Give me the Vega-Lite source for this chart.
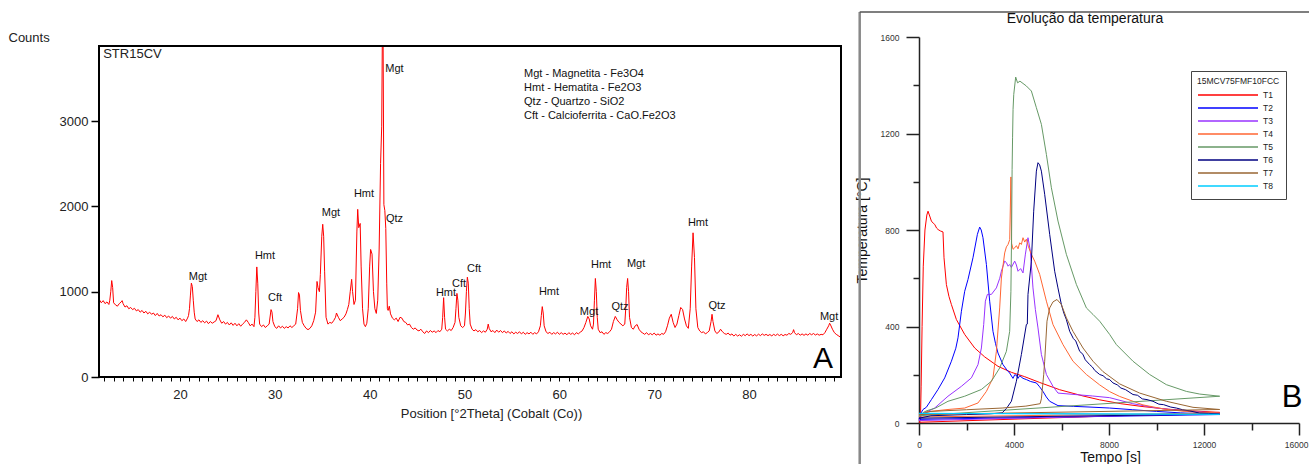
{
"$schema": "https://vega.github.io/schema/vega-lite/v6.json",
"background": "white",
"padding": {"left": 8, "top": 10, "right": 0, "bottom": 0},
"bounds": "flush",
"spacing": 78,
"config": {
 "view": {"stroke": null},
 "font": "Liberation Sans",
 "axis": {"grid": false, "labelFont": "Liberation Sans", "titleFont": "Liberation Sans", "titleFontWeight": "normal", "labelFlush": false, "labelOverlap": false, "labelBound": false},
 "text": {"font": "Liberation Sans"},
 "legend": {"labelFont": "Liberation Sans", "titleFont": "Liberation Sans"},
 "title": {"font": "Liberation Sans"}
},
"datasets": {
 "one": [{"k": 1}],
 "xrd": [
{"t":11.5,"c":905},{"t":11.7,"c":870},{"t":11.9,"c":895},{"t":12.1,"c":860},{"t":12.3,"c":880},{"t":12.5,"c":850},{"t":12.6,"c":900},{"t":12.7,"c":1000},{"t":12.8,"c":1130},{"t":12.9,"c":1050},{"t":13.0,"c":870},{"t":13.2,"c":845},{"t":13.4,"c":830},{"t":13.6,"c":860},{"t":13.8,"c":880},{"t":13.9,"c":895},{"t":14.0,"c":860},{"t":14.2,"c":820},{"t":14.4,"c":835},{"t":14.6,"c":800},{"t":14.8,"c":815},{"t":15.0,"c":790},{"t":15.2,"c":805},{"t":15.4,"c":775},{"t":15.6,"c":790},{"t":15.8,"c":760},{"t":16.0,"c":780},{"t":16.2,"c":750},{"t":16.4,"c":770},{"t":16.6,"c":740},{"t":16.8,"c":760},{"t":17.0,"c":735},{"t":17.2,"c":750},{"t":17.4,"c":720},{"t":17.6,"c":745},{"t":17.8,"c":715},{"t":18.0,"c":730},{"t":18.2,"c":705},{"t":18.4,"c":725},{"t":18.6,"c":695},{"t":18.8,"c":715},{"t":19.0,"c":690},{"t":19.2,"c":710},{"t":19.4,"c":680},{"t":19.6,"c":700},{"t":19.8,"c":670},{"t":20.0,"c":690},{"t":20.2,"c":660},{"t":20.4,"c":680},{"t":20.6,"c":650},{"t":20.8,"c":690},{"t":20.9,"c":720},{"t":21.0,"c":800},{"t":21.1,"c":960},{"t":21.2,"c":1100},{"t":21.3,"c":1060},{"t":21.4,"c":900},{"t":21.5,"c":760},{"t":21.6,"c":680},{"t":21.8,"c":650},{"t":22.0,"c":670},{"t":22.2,"c":640},{"t":22.4,"c":660},{"t":22.6,"c":635},{"t":22.8,"c":655},{"t":23.0,"c":625},{"t":23.2,"c":650},{"t":23.4,"c":630},{"t":23.6,"c":645},{"t":23.8,"c":660},{"t":24.0,"c":730},{"t":24.2,"c":670},{"t":24.4,"c":630},{"t":24.6,"c":650},{"t":24.8,"c":620},{"t":25.0,"c":640},{"t":25.2,"c":610},{"t":25.4,"c":635},{"t":25.6,"c":605},{"t":25.8,"c":630},{"t":26.0,"c":600},{"t":26.2,"c":625},{"t":26.4,"c":595},{"t":26.6,"c":620},{"t":26.8,"c":640},{"t":27.0,"c":670},{"t":27.2,"c":640},{"t":27.4,"c":600},{"t":27.6,"c":620},{"t":27.8,"c":590},{"t":27.9,"c":700},{"t":28.0,"c":1000},{"t":28.1,"c":1290},{"t":28.2,"c":1100},{"t":28.3,"c":750},{"t":28.4,"c":620},{"t":28.6,"c":590},{"t":28.8,"c":610},{"t":29.0,"c":580},{"t":29.2,"c":600},{"t":29.4,"c":620},{"t":29.6,"c":790},{"t":29.7,"c":760},{"t":29.8,"c":650},{"t":30.0,"c":590},{"t":30.2,"c":570},{"t":30.4,"c":600},{"t":30.6,"c":575},{"t":30.8,"c":595},{"t":31.0,"c":570},{"t":31.2,"c":590},{"t":31.4,"c":575},{"t":31.6,"c":600},{"t":31.8,"c":580},{"t":32.0,"c":600},{"t":32.2,"c":620},{"t":32.4,"c":800},{"t":32.5,"c":990},{"t":32.6,"c":960},{"t":32.7,"c":780},{"t":32.9,"c":640},{"t":33.1,"c":600},{"t":33.3,"c":570},{"t":33.5,"c":555},{"t":33.7,"c":570},{"t":33.9,"c":600},{"t":34.1,"c":660},{"t":34.3,"c":760},{"t":34.45,"c":1120},{"t":34.55,"c":1050},{"t":34.7,"c":1000},{"t":34.8,"c":1200},{"t":34.95,"c":1650},{"t":35.05,"c":1790},{"t":35.15,"c":1650},{"t":35.25,"c":1240},{"t":35.4,"c":700},{"t":35.6,"c":620},{"t":35.8,"c":640},{"t":36.0,"c":630},{"t":36.2,"c":660},{"t":36.4,"c":700},{"t":36.5,"c":750},{"t":36.7,"c":700},{"t":36.9,"c":660},{"t":37.1,"c":680},{"t":37.3,"c":700},{"t":37.5,"c":740},{"t":37.65,"c":790},{"t":37.8,"c":850},{"t":37.95,"c":1000},{"t":38.1,"c":1145},{"t":38.2,"c":1000},{"t":38.35,"c":850},{"t":38.5,"c":900},{"t":38.65,"c":1700},{"t":38.74,"c":1965},{"t":38.85,"c":1750},{"t":39.0,"c":1800},{"t":39.1,"c":1300},{"t":39.25,"c":800},{"t":39.4,"c":620},{"t":39.55,"c":590},{"t":39.7,"c":630},{"t":39.85,"c":800},{"t":40.0,"c":1300},{"t":40.1,"c":1495},{"t":40.25,"c":1440},{"t":40.4,"c":1000},{"t":40.55,"c":800},{"t":40.7,"c":745},{"t":40.85,"c":900},{"t":41.0,"c":1500},{"t":41.15,"c":2500},{"t":41.27,"c":2940},{"t":41.33,"c":3880},{"t":41.42,"c":3880},{"t":41.5,"c":2020},{"t":41.6,"c":1950},{"t":41.7,"c":1740},{"t":41.8,"c":1100},{"t":41.87,"c":800},{"t":41.95,"c":780},{"t":42.07,"c":830},{"t":42.2,"c":740},{"t":42.4,"c":690},{"t":42.6,"c":670},{"t":42.8,"c":690},{"t":43.0,"c":650},{"t":43.2,"c":700},{"t":43.4,"c":690},{"t":43.6,"c":650},{"t":43.8,"c":640},{"t":44.0,"c":610},{"t":44.2,"c":620},{"t":44.4,"c":580},{"t":44.6,"c":560},{"t":44.8,"c":575},{"t":45.0,"c":550},{"t":45.2,"c":540},{"t":45.4,"c":560},{"t":45.6,"c":530},{"t":45.8,"c":510},{"t":46.0,"c":540},{"t":46.2,"c":520},{"t":46.4,"c":545},{"t":46.6,"c":525},{"t":46.8,"c":540},{"t":47.0,"c":520},{"t":47.2,"c":545},{"t":47.4,"c":530},{"t":47.6,"c":560},{"t":47.7,"c":700},{"t":47.8,"c":930},{"t":47.9,"c":700},{"t":48.0,"c":560},{"t":48.2,"c":540},{"t":48.4,"c":560},{"t":48.6,"c":545},{"t":48.8,"c":580},{"t":49.0,"c":640},{"t":49.1,"c":800},{"t":49.2,"c":980},{"t":49.3,"c":900},{"t":49.4,"c":700},{"t":49.6,"c":600},{"t":49.8,"c":580},{"t":50.0,"c":600},{"t":50.1,"c":750},{"t":50.2,"c":1000},{"t":50.3,"c":1170},{"t":50.4,"c":1100},{"t":50.5,"c":800},{"t":50.6,"c":620},{"t":50.8,"c":560},{"t":51.0,"c":540},{"t":51.2,"c":555},{"t":51.4,"c":530},{"t":51.6,"c":545},{"t":51.8,"c":520},{"t":52.0,"c":540},{"t":52.2,"c":525},{"t":52.4,"c":560},{"t":52.5,"c":620},{"t":52.6,"c":570},{"t":52.8,"c":530},{"t":53.0,"c":545},{"t":53.2,"c":520},{"t":53.4,"c":550},{"t":53.6,"c":525},{"t":53.8,"c":545},{"t":54.0,"c":520},{"t":54.2,"c":540},{"t":54.4,"c":515},{"t":54.6,"c":535},{"t":54.8,"c":510},{"t":55.0,"c":530},{"t":55.2,"c":505},{"t":55.4,"c":525},{"t":55.6,"c":510},{"t":55.8,"c":530},{"t":56.0,"c":505},{"t":56.2,"c":525},{"t":56.4,"c":500},{"t":56.6,"c":520},{"t":56.8,"c":505},{"t":57.0,"c":525},{"t":57.2,"c":500},{"t":57.4,"c":520},{"t":57.6,"c":505},{"t":57.8,"c":530},{"t":58.0,"c":600},{"t":58.1,"c":720},{"t":58.2,"c":825},{"t":58.3,"c":750},{"t":58.4,"c":600},{"t":58.6,"c":530},{"t":58.8,"c":510},{"t":59.0,"c":525},{"t":59.2,"c":500},{"t":59.4,"c":520},{"t":59.6,"c":505},{"t":59.8,"c":525},{"t":60.0,"c":500},{"t":60.2,"c":520},{"t":60.4,"c":500},{"t":60.6,"c":515},{"t":60.8,"c":495},{"t":61.0,"c":520},{"t":61.2,"c":500},{"t":61.4,"c":515},{"t":61.6,"c":495},{"t":61.8,"c":520},{"t":62.0,"c":505},{"t":62.2,"c":525},{"t":62.4,"c":540},{"t":62.6,"c":580},{"t":62.8,"c":640},{"t":63.0,"c":710},{"t":63.15,"c":680},{"t":63.3,"c":600},{"t":63.5,"c":560},{"t":63.6,"c":620},{"t":63.7,"c":900},{"t":63.8,"c":1155},{"t":63.9,"c":1000},{"t":64.0,"c":700},{"t":64.1,"c":560},{"t":64.3,"c":520},{"t":64.5,"c":530},{"t":64.7,"c":500},{"t":64.9,"c":520},{"t":65.1,"c":510},{"t":65.3,"c":530},{"t":65.5,"c":560},{"t":65.7,"c":650},{"t":65.9,"c":710},{"t":66.1,"c":670},{"t":66.3,"c":640},{"t":66.5,"c":620},{"t":66.7,"c":600},{"t":66.9,"c":620},{"t":67.0,"c":800},{"t":67.1,"c":1050},{"t":67.2,"c":1155},{"t":67.3,"c":1000},{"t":67.4,"c":700},{"t":67.6,"c":580},{"t":67.8,"c":560},{"t":68.0,"c":600},{"t":68.2,"c":615},{"t":68.4,"c":560},{"t":68.6,"c":530},{"t":68.8,"c":515},{"t":69.0,"c":500},{"t":69.2,"c":520},{"t":69.4,"c":495},{"t":69.6,"c":510},{"t":69.8,"c":495},{"t":70.0,"c":515},{"t":70.2,"c":490},{"t":70.4,"c":505},{"t":70.6,"c":490},{"t":70.8,"c":510},{"t":71.0,"c":500},{"t":71.2,"c":530},{"t":71.4,"c":600},{"t":71.6,"c":690},{"t":71.8,"c":735},{"t":72.0,"c":640},{"t":72.2,"c":580},{"t":72.4,"c":620},{"t":72.6,"c":720},{"t":72.8,"c":815},{"t":73.0,"c":790},{"t":73.2,"c":680},{"t":73.4,"c":600},{"t":73.6,"c":570},{"t":73.8,"c":800},{"t":73.95,"c":1300},{"t":74.1,"c":1690},{"t":74.25,"c":1400},{"t":74.4,"c":800},{"t":74.6,"c":580},{"t":74.8,"c":540},{"t":75.0,"c":520},{"t":75.2,"c":530},{"t":75.4,"c":505},{"t":75.6,"c":520},{"t":75.8,"c":540},{"t":76.0,"c":650},{"t":76.1,"c":735},{"t":76.2,"c":650},{"t":76.4,"c":540},{"t":76.6,"c":510},{"t":76.8,"c":525},{"t":77.0,"c":560},{"t":77.2,"c":530},{"t":77.4,"c":510},{"t":77.6,"c":500},{"t":77.8,"c":515},{"t":78.0,"c":490},{"t":78.2,"c":505},{"t":78.4,"c":480},{"t":78.6,"c":500},{"t":78.8,"c":480},{"t":79.0,"c":495},{"t":79.2,"c":478},{"t":79.4,"c":500},{"t":79.6,"c":485},{"t":79.8,"c":505},{"t":80.0,"c":485},{"t":80.2,"c":500},{"t":80.4,"c":480},{"t":80.6,"c":498},{"t":80.8,"c":482},{"t":81.0,"c":502},{"t":81.2,"c":485},{"t":81.4,"c":505},{"t":81.6,"c":488},{"t":81.8,"c":500},{"t":82.0,"c":485},{"t":82.2,"c":498},{"t":82.4,"c":482},{"t":82.6,"c":500},{"t":82.8,"c":486},{"t":83.0,"c":503},{"t":83.2,"c":485},{"t":83.4,"c":500},{"t":83.6,"c":483},{"t":83.8,"c":498},{"t":84.0,"c":490},{"t":84.2,"c":510},{"t":84.4,"c":500},{"t":84.6,"c":520},{"t":84.7,"c":555},{"t":84.8,"c":520},{"t":85.0,"c":495},{"t":85.2,"c":510},{"t":85.4,"c":490},{"t":85.6,"c":505},{"t":85.8,"c":488},{"t":86.0,"c":505},{"t":86.2,"c":490},{"t":86.4,"c":510},{"t":86.6,"c":495},{"t":86.8,"c":510},{"t":87.0,"c":492},{"t":87.2,"c":505},{"t":87.4,"c":490},{"t":87.6,"c":500},{"t":87.8,"c":495},{"t":88.0,"c":520},{"t":88.2,"c":560},{"t":88.4,"c":600},{"t":88.5,"c":630},{"t":88.6,"c":610},{"t":88.8,"c":560},{"t":89.0,"c":520},{"t":89.2,"c":500},{"t":89.4,"c":485},{"t":89.6,"c":470},{"t":89.7,"c":475}
 ],
 "peaks": [
{"tt":21.9,"cnt":1170,"lab":"Mgt"},{"tt":28.96,"cnt":1420,"lab":"Hmt"},{"tt":30.02,"cnt":925,"lab":"Cft"},{"tt":35.92,"cnt":1922,"lab":"Mgt"},{"tt":39.4,"cnt":2145,"lab":"Hmt"},{"tt":42.62,"cnt":3610,"lab":"Mgt"},{"tt":42.62,"cnt":1852,"lab":"Qtz"},{"tt":48.05,"cnt":985,"lab":"Hmt"},{"tt":49.42,"cnt":1090,"lab":"Cft"},{"tt":51.0,"cnt":1265,"lab":"Cft"},{"tt":58.91,"cnt":995,"lab":"Hmt"},{"tt":63.13,"cnt":760,"lab":"Mgt"},{"tt":64.4,"cnt":1310,"lab":"Hmt"},{"tt":66.4,"cnt":820,"lab":"Qtz"},{"tt":68.09,"cnt":1325,"lab":"Mgt"},{"tt":74.62,"cnt":1805,"lab":"Hmt"},{"tt":76.63,"cnt":830,"lab":"Qtz"},{"tt":88.44,"cnt":705,"lab":"Mgt"}
 ],
 "temps": [
{"s":"T1","n":0,"t":0,"v":3},{"s":"T1","n":1,"t":60,"v":10},{"s":"T1","n":2,"t":90,"v":150},{"s":"T1","n":3,"t":130,"v":400},{"s":"T1","n":4,"t":180,"v":650},{"s":"T1","n":5,"t":250,"v":800},{"s":"T1","n":6,"t":330,"v":862},{"s":"T1","n":7,"t":380,"v":878},{"s":"T1","n":8,"t":450,"v":858},{"s":"T1","n":9,"t":522,"v":837},{"s":"T1","n":10,"t":600,"v":828},{"s":"T1","n":11,"t":663,"v":823},{"s":"T1","n":12,"t":740,"v":808},{"s":"T1","n":13,"t":803,"v":802},{"s":"T1","n":14,"t":900,"v":796},{"s":"T1","n":15,"t":1010,"v":792},{"s":"T1","n":16,"t":1053,"v":685},{"s":"T1","n":17,"t":1153,"v":574},{"s":"T1","n":18,"t":1260,"v":525},{"s":"T1","n":19,"t":1364,"v":491},{"s":"T1","n":20,"t":1574,"v":429},{"s":"T1","n":21,"t":1924,"v":367},{"s":"T1","n":22,"t":2345,"v":311},{"s":"T1","n":23,"t":2766,"v":274},{"s":"T1","n":24,"t":3326,"v":235},{"s":"T1","n":25,"t":3890,"v":210},{"s":"T1","n":26,"t":4450,"v":192},{"s":"T1","n":27,"t":5081,"v":168},{"s":"T1","n":28,"t":5923,"v":138},{"s":"T1","n":29,"t":6905,"v":112},{"s":"T1","n":30,"t":7607,"v":96},{"s":"T1","n":31,"t":8500,"v":80},{"s":"T1","n":32,"t":9431,"v":68},{"s":"T1","n":33,"t":10500,"v":57},{"s":"T1","n":34,"t":11500,"v":50},{"s":"T1","n":35,"t":12660,"v":44},{"s":"T1","n":36,"t":0,"v":3},
{"s":"T2","n":0,"t":0,"v":15},{"s":"T2","n":1,"t":80,"v":40},{"s":"T2","n":2,"t":168,"v":56},{"s":"T2","n":3,"t":308,"v":65},{"s":"T2","n":4,"t":522,"v":97},{"s":"T2","n":5,"t":800,"v":139},{"s":"T2","n":6,"t":1082,"v":187},{"s":"T2","n":7,"t":1364,"v":256},{"s":"T2","n":8,"t":1550,"v":310},{"s":"T2","n":9,"t":1642,"v":353},{"s":"T2","n":10,"t":1785,"v":463},{"s":"T2","n":11,"t":1924,"v":546},{"s":"T2","n":12,"t":2063,"v":595},{"s":"T2","n":13,"t":2273,"v":685},{"s":"T2","n":14,"t":2459,"v":782},{"s":"T2","n":15,"t":2555,"v":812},{"s":"T2","n":16,"t":2620,"v":800},{"s":"T2","n":17,"t":2694,"v":768},{"s":"T2","n":18,"t":2838,"v":657},{"s":"T2","n":19,"t":2976,"v":505},{"s":"T2","n":20,"t":3115,"v":380},{"s":"T2","n":21,"t":3220,"v":330},{"s":"T2","n":22,"t":3326,"v":290},{"s":"T2","n":23,"t":3536,"v":242},{"s":"T2","n":24,"t":3700,"v":220},{"s":"T2","n":25,"t":3818,"v":207},{"s":"T2","n":26,"t":3957,"v":185},{"s":"T2","n":27,"t":4030,"v":200},{"s":"T2","n":28,"t":4100,"v":198},{"s":"T2","n":29,"t":4170,"v":185},{"s":"T2","n":30,"t":4240,"v":196},{"s":"T2","n":31,"t":4380,"v":185},{"s":"T2","n":32,"t":4520,"v":180},{"s":"T2","n":33,"t":4700,"v":172},{"s":"T2","n":34,"t":4942,"v":166},{"s":"T2","n":35,"t":5080,"v":150},{"s":"T2","n":36,"t":5220,"v":131},{"s":"T2","n":37,"t":5360,"v":108},{"s":"T2","n":38,"t":5502,"v":90},{"s":"T2","n":39,"t":5852,"v":72},{"s":"T2","n":40,"t":6500,"v":69},{"s":"T2","n":41,"t":7200,"v":66},{"s":"T2","n":42,"t":8028,"v":62},{"s":"T2","n":43,"t":9000,"v":55},{"s":"T2","n":44,"t":10000,"v":48},{"s":"T2","n":45,"t":11000,"v":42},{"s":"T2","n":46,"t":12000,"v":38},{"s":"T2","n":47,"t":12660,"v":35},{"s":"T2","n":48,"t":0,"v":15},
{"s":"T3","n":0,"t":0,"v":10},{"s":"T3","n":1,"t":100,"v":30},{"s":"T3","n":2,"t":300,"v":45},{"s":"T3","n":3,"t":661,"v":62},{"s":"T3","n":4,"t":1221,"v":111},{"s":"T3","n":5,"t":1785,"v":152},{"s":"T3","n":6,"t":2206,"v":187},{"s":"T3","n":7,"t":2484,"v":242},{"s":"T3","n":8,"t":2627,"v":311},{"s":"T3","n":9,"t":2724,"v":408},{"s":"T3","n":10,"t":2795,"v":505},{"s":"T3","n":11,"t":2880,"v":533},{"s":"T3","n":12,"t":3048,"v":533},{"s":"T3","n":13,"t":3258,"v":560},{"s":"T3","n":14,"t":3400,"v":600},{"s":"T3","n":15,"t":3469,"v":629},{"s":"T3","n":16,"t":3608,"v":671},{"s":"T3","n":17,"t":3679,"v":665},{"s":"T3","n":18,"t":3750,"v":650},{"s":"T3","n":19,"t":3818,"v":657},{"s":"T3","n":20,"t":3890,"v":645},{"s":"T3","n":21,"t":4029,"v":671},{"s":"T3","n":22,"t":4100,"v":655},{"s":"T3","n":23,"t":4169,"v":629},{"s":"T3","n":24,"t":4280,"v":640},{"s":"T3","n":25,"t":4379,"v":622},{"s":"T3","n":26,"t":4480,"v":700},{"s":"T3","n":27,"t":4589,"v":768},{"s":"T3","n":28,"t":4690,"v":712},{"s":"T3","n":29,"t":4799,"v":560},{"s":"T3","n":30,"t":4900,"v":470},{"s":"T3","n":31,"t":5010,"v":394},{"s":"T3","n":32,"t":5153,"v":284},{"s":"T3","n":33,"t":5364,"v":201},{"s":"T3","n":34,"t":5641,"v":152},{"s":"T3","n":35,"t":5852,"v":124},{"s":"T3","n":36,"t":6574,"v":118},{"s":"T3","n":37,"t":7300,"v":112},{"s":"T3","n":38,"t":8028,"v":105},{"s":"T3","n":39,"t":9000,"v":80},{"s":"T3","n":40,"t":10000,"v":62},{"s":"T3","n":41,"t":11000,"v":52},{"s":"T3","n":42,"t":12000,"v":45},{"s":"T3","n":43,"t":12660,"v":40},{"s":"T3","n":44,"t":0,"v":10},
{"s":"T4","n":0,"t":0,"v":25},{"s":"T4","n":1,"t":200,"v":45},{"s":"T4","n":2,"t":1221,"v":56},{"s":"T4","n":3,"t":1924,"v":62},{"s":"T4","n":4,"t":2484,"v":83},{"s":"T4","n":5,"t":2838,"v":131},{"s":"T4","n":6,"t":3115,"v":187},{"s":"T4","n":7,"t":3258,"v":297},{"s":"T4","n":8,"t":3397,"v":477},{"s":"T4","n":9,"t":3469,"v":601},{"s":"T4","n":10,"t":3608,"v":705},{"s":"T4","n":11,"t":3680,"v":730},{"s":"T4","n":12,"t":3749,"v":740},{"s":"T4","n":13,"t":3820,"v":760},{"s":"T4","n":14,"t":3870,"v":1020},{"s":"T4","n":15,"t":3900,"v":745},{"s":"T4","n":16,"t":3960,"v":720},{"s":"T4","n":17,"t":4029,"v":726},{"s":"T4","n":18,"t":4100,"v":735},{"s":"T4","n":19,"t":4170,"v":722},{"s":"T4","n":20,"t":4239,"v":747},{"s":"T4","n":21,"t":4310,"v":740},{"s":"T4","n":22,"t":4379,"v":768},{"s":"T4","n":23,"t":4450,"v":750},{"s":"T4","n":24,"t":4520,"v":762},{"s":"T4","n":25,"t":4600,"v":733},{"s":"T4","n":26,"t":4732,"v":699},{"s":"T4","n":27,"t":4871,"v":671},{"s":"T4","n":28,"t":5081,"v":616},{"s":"T4","n":29,"t":5364,"v":505},{"s":"T4","n":30,"t":5641,"v":408},{"s":"T4","n":31,"t":6062,"v":325},{"s":"T4","n":32,"t":6483,"v":256},{"s":"T4","n":33,"t":7048,"v":201},{"s":"T4","n":34,"t":7607,"v":158},{"s":"T4","n":35,"t":8028,"v":130},{"s":"T4","n":36,"t":8450,"v":110},{"s":"T4","n":37,"t":9431,"v":75},{"s":"T4","n":38,"t":10300,"v":58},{"s":"T4","n":39,"t":11114,"v":49},{"s":"T4","n":40,"t":12000,"v":44},{"s":"T4","n":41,"t":12660,"v":41},{"s":"T4","n":42,"t":0,"v":25},
{"s":"T5","n":0,"t":0,"v":30},{"s":"T5","n":1,"t":300,"v":50},{"s":"T5","n":2,"t":700,"v":62},{"s":"T5","n":3,"t":1221,"v":90},{"s":"T5","n":4,"t":1924,"v":111},{"s":"T5","n":5,"t":2627,"v":139},{"s":"T5","n":6,"t":3048,"v":173},{"s":"T5","n":7,"t":3397,"v":228},{"s":"T5","n":8,"t":3679,"v":297},{"s":"T5","n":9,"t":3818,"v":380},{"s":"T5","n":10,"t":3870,"v":546},{"s":"T5","n":11,"t":3900,"v":800},{"s":"T5","n":12,"t":3920,"v":1050},{"s":"T5","n":13,"t":3940,"v":1182},{"s":"T5","n":14,"t":3960,"v":1300},{"s":"T5","n":15,"t":3990,"v":1362},{"s":"T5","n":16,"t":4071,"v":1434},{"s":"T5","n":17,"t":4150,"v":1410},{"s":"T5","n":18,"t":4250,"v":1417},{"s":"T5","n":19,"t":4520,"v":1397},{"s":"T5","n":20,"t":4732,"v":1376},{"s":"T5","n":21,"t":4942,"v":1307},{"s":"T5","n":22,"t":5153,"v":1238},{"s":"T5","n":23,"t":5364,"v":1113},{"s":"T5","n":24,"t":5574,"v":975},{"s":"T5","n":25,"t":5852,"v":837},{"s":"T5","n":26,"t":6205,"v":699},{"s":"T5","n":27,"t":6627,"v":574},{"s":"T5","n":28,"t":7048,"v":477},{"s":"T5","n":29,"t":7326,"v":450},{"s":"T5","n":30,"t":7607,"v":422},{"s":"T5","n":31,"t":8028,"v":367},{"s":"T5","n":32,"t":8310,"v":325},{"s":"T5","n":33,"t":9010,"v":256},{"s":"T5","n":34,"t":9712,"v":201},{"s":"T5","n":35,"t":10415,"v":159},{"s":"T5","n":36,"t":11257,"v":131},{"s":"T5","n":37,"t":11818,"v":120},{"s":"T5","n":38,"t":12660,"v":111},{"s":"T5","n":39,"t":0,"v":30},
{"s":"T6","n":0,"t":0,"v":20},{"s":"T6","n":1,"t":500,"v":30},{"s":"T6","n":2,"t":2000,"v":35},{"s":"T6","n":3,"t":3000,"v":38},{"s":"T6","n":4,"t":3500,"v":42},{"s":"T6","n":5,"t":3679,"v":60},{"s":"T6","n":6,"t":3890,"v":90},{"s":"T6","n":7,"t":4100,"v":173},{"s":"T6","n":8,"t":4311,"v":284},{"s":"T6","n":9,"t":4520,"v":408},{"s":"T6","n":10,"t":4560,"v":410},{"s":"T6","n":11,"t":4589,"v":533},{"s":"T6","n":12,"t":4732,"v":671},{"s":"T6","n":13,"t":4829,"v":878},{"s":"T6","n":14,"t":4942,"v":1044},{"s":"T6","n":15,"t":5010,"v":1079},{"s":"T6","n":16,"t":5080,"v":1070},{"s":"T6","n":17,"t":5153,"v":1044},{"s":"T6","n":18,"t":5292,"v":948},{"s":"T6","n":19,"t":5502,"v":782},{"s":"T6","n":20,"t":5713,"v":629},{"s":"T6","n":21,"t":5850,"v":560},{"s":"T6","n":22,"t":5995,"v":491},{"s":"T6","n":23,"t":6100,"v":455},{"s":"T6","n":24,"t":6200,"v":430},{"s":"T6","n":25,"t":6345,"v":380},{"s":"T6","n":26,"t":6500,"v":350},{"s":"T6","n":27,"t":6600,"v":340},{"s":"T6","n":28,"t":6766,"v":297},{"s":"T6","n":29,"t":6900,"v":285},{"s":"T6","n":30,"t":7000,"v":262},{"s":"T6","n":31,"t":7187,"v":242},{"s":"T6","n":32,"t":7300,"v":232},{"s":"T6","n":33,"t":7400,"v":218},{"s":"T6","n":34,"t":7607,"v":201},{"s":"T6","n":35,"t":7750,"v":196},{"s":"T6","n":36,"t":7900,"v":183},{"s":"T6","n":37,"t":8028,"v":180},{"s":"T6","n":38,"t":8169,"v":166},{"s":"T6","n":39,"t":8350,"v":158},{"s":"T6","n":40,"t":8500,"v":145},{"s":"T6","n":41,"t":8700,"v":138},{"s":"T6","n":42,"t":9010,"v":118},{"s":"T6","n":43,"t":9200,"v":115},{"s":"T6","n":44,"t":9400,"v":100},{"s":"T6","n":45,"t":9600,"v":97},{"s":"T6","n":46,"t":9852,"v":90},{"s":"T6","n":47,"t":10100,"v":78},{"s":"T6","n":48,"t":10300,"v":76},{"s":"T6","n":49,"t":10600,"v":66},{"s":"T6","n":50,"t":10836,"v":62},{"s":"T6","n":51,"t":11100,"v":55},{"s":"T6","n":52,"t":11400,"v":50},{"s":"T6","n":53,"t":11818,"v":41},{"s":"T6","n":54,"t":12200,"v":40},{"s":"T6","n":55,"t":12660,"v":37},{"s":"T6","n":56,"t":0,"v":20},
{"s":"T7","n":0,"t":0,"v":35},{"s":"T7","n":1,"t":500,"v":48},{"s":"T7","n":2,"t":2000,"v":55},{"s":"T7","n":3,"t":3500,"v":62},{"s":"T7","n":4,"t":4500,"v":70},{"s":"T7","n":5,"t":5100,"v":80},{"s":"T7","n":6,"t":5153,"v":100},{"s":"T7","n":7,"t":5250,"v":200},{"s":"T7","n":8,"t":5292,"v":256},{"s":"T7","n":9,"t":5389,"v":422},{"s":"T7","n":10,"t":5502,"v":477},{"s":"T7","n":11,"t":5641,"v":502},{"s":"T7","n":12,"t":5810,"v":512},{"s":"T7","n":13,"t":5995,"v":491},{"s":"T7","n":14,"t":6205,"v":436},{"s":"T7","n":15,"t":6483,"v":380},{"s":"T7","n":16,"t":6905,"v":311},{"s":"T7","n":17,"t":7326,"v":256},{"s":"T7","n":18,"t":7747,"v":213},{"s":"T7","n":19,"t":8450,"v":162},{"s":"T7","n":20,"t":9292,"v":124},{"s":"T7","n":21,"t":10415,"v":90},{"s":"T7","n":22,"t":11537,"v":65},{"s":"T7","n":23,"t":12660,"v":56},{"s":"T7","n":24,"t":0,"v":35},
{"s":"T8","n":0,"t":0,"v":40},{"s":"T8","n":1,"t":12660,"v":36},{"s":"T8","n":2,"t":0,"v":40}
 ]
},
"hconcat": [
 {
  "width": 742, "height": 340,
  "layer": [
   {
    "data": {"name": "xrd"},
    "mark": {"type": "line", "color": "#ff0000", "strokeWidth": 1},
    "encoding": {
     "x": {"field": "t", "type": "quantitative",
      "scale": {"domain": [11.46, 89.7], "nice": false, "zero": false},
      "axis": {"title": "Position [°2Theta] (Cobalt (Co))", "titleFontSize": 13, "titleColor": "#222", "titleX": 392, "titleY": 36, "titleBaseline": "middle", "titleAlign": "center",
       "values": [12,13,14,15,16,17,18,19,20,21,22,23,24,25,26,27,28,29,30,31,32,33,34,35,36,37,38,39,40,41,42,43,44,45,46,47,48,49,50,51,52,53,54,55,56,57,58,59,60,61,62,63,64,65,66,67,68,69,70,71,72,73,74,75,76,77,78,79,80,81,82,83,84,85,86,87,88,89],
       "tickCount": 200,
       "labelExpr": "datum.value % 10 === 0 ? datum.label : ''", "format": "d", "labelOverlap": false, "labelFlush": false,
       "domain": false, "tickSize": 4, "tickColor": "#000", "tickWidth": 1, "labelFontSize": 13, "labelColor": "#222", "labelPadding": 7}},
     "y": {"field": "c", "type": "quantitative",
      "scale": {"domain": [0, 3985], "nice": false},
      "axis": {"title": "Counts", "titleAngle": 0, "titleX": -91, "titleY": 0, "titleAlign": "left", "titleBaseline": "middle", "titleFontSize": 13, "titleColor": "#222",
       "values": [0, 1000, 2000, 3000], "format": "d", "labelOverlap": false, "domain": false, "tickSize": 8, "tickWidth": 1.5, "tickColor": "#000", "labelFontSize": 13, "labelColor": "#222", "labelPadding": 3}}
    }
   },
   {
    "data": {"name": "one"},
    "mark": {"type": "rect", "filled": false, "stroke": "#000000", "strokeWidth": 2},
    "encoding": {"x": {"datum": 11.46}, "x2": {"datum": 89.7}, "y": {"datum": 0}, "y2": {"datum": 3880}}
   },
   {
    "data": {"name": "peaks"},
    "mark": {"type": "text", "fontSize": 11, "color": "#111", "align": "center", "baseline": "middle"},
    "encoding": {"x": {"field": "tt", "type": "quantitative"}, "y": {"field": "cnt", "type": "quantitative"}, "text": {"field": "lab"}}
   },
   {
    "data": {"name": "one"},
    "mark": {"type": "text", "text": "STR15CV", "fontSize": 13, "color": "#222", "align": "left", "baseline": "middle"},
    "encoding": {"x": {"datum": 11.9}, "y": {"datum": 3786}}
   },
   {
    "data": {"name": "one"},
    "mark": {"type": "text", "text": ["Mgt - Magnetita - Fe3O4", "Hmt - Hematita - Fe2O3", "Qtz - Quartzo - SiO2", "Cft - Calcioferrita - CaO.Fe2O3"], "fontSize": 11, "lineHeight": 14, "color": "#111", "align": "left", "baseline": "top"},
    "encoding": {"x": {"datum": 56.28}, "y": {"datum": 3616}}
   },
   {
    "data": {"name": "one"},
    "mark": {"type": "text", "text": "A", "fontSize": 30, "color": "#000", "align": "center", "baseline": "alphabetic"},
    "encoding": {"x": {"datum": 87.8}, "y": {"datum": 105}}
   }
  ]
 },
 {
  "width": 380, "height": 386,
  "title": {"text": "Evolução da temperatura", "fontSize": 14, "fontWeight": "normal", "color": "#111", "frame": "group", "anchor": "middle", "dx": -24, "offset": -15},
  "layer": [
   {
    "data": {"name": "temps"},
    "mark": {"type": "line", "strokeWidth": 1},
    "encoding": {
     "x": {"field": "t", "type": "quantitative",
      "scale": {"domain": [0, 16000], "nice": false},
      "axis": {"title": "Tempo [s]", "titleFontSize": 14, "titleColor": "#111", "titleX": 191, "titleY": 34, "titleBaseline": "middle", "titleAlign": "center",
       "values": [0, 2000, 4000, 6000, 8000, 10000, 12000, 14000, 16000], "tickCount": 50, "format": "d", "labelOverlap": false, "labelFlush": false,
       "labelExpr": "datum.value % 4000 === 0 ? datum.label : ''",
       "tickSize": {"condition": {"test": "datum.value % 4000 === 0", "value": 12}, "value": 7},
       "labelAlign": {"condition": {"test": "datum.value === 16000", "value": "right"}, "value": "center"},
       "labelOffset": {"condition": {"test": "datum.value === 16000", "value": 9}, "value": 0},
       "domainColor": "#222", "domainWidth": 1.5, "tickColor": "#222", "tickWidth": 1.5, "labelFontSize": 8.5, "labelColor": "#333", "labelPadding": 5}},
     "y": {"field": "v", "type": "quantitative",
      "scale": {"domain": [0, 1600], "nice": false},
      "axis": {"title": "Temperatura [°C]", "titleFontSize": 14, "titleColor": "#111", "titleX": -57, "titleY": 193, "titleAngle": -90, "titleBaseline": "middle", "titleAlign": "center",
       "values": [0, 200, 400, 600, 800, 1000, 1200, 1400, 1600], "tickCount": 50, "format": "d", "labelOverlap": false,
       "labelExpr": "datum.value % 400 === 0 ? datum.label : ''",
       "tickSize": {"condition": {"test": "datum.value % 400 === 0", "value": 13}, "value": 6},
       "domainColor": "#222", "domainWidth": 1.5, "tickColor": "#222", "tickWidth": 1.5, "labelFontSize": 8.5, "labelColor": "#333", "labelPadding": 7}},
     "color": {"field": "s", "type": "nominal",
      "scale": {"domain": ["T1", "T2", "T3", "T4", "T5", "T6", "T7", "T8"], "range": ["#ff0000", "#0000ff", "#9933ff", "#ff6633", "#669966", "#000080", "#996633", "#00ccff"]},
      "legend": {"orient": "none", "legendX": 1092, "legendY": 34, "title": "15MCV75FMF10FCC", "titleFontSize": 8.5, "titleFontWeight": "normal", "titleColor": "#222", "titlePadding": 3,
       "labelFontSize": 8.5, "labelColor": "#222", "labelOffset": 4, "symbolType": "stroke", "symbolSize": 3600, "symbolStrokeWidth": 1.5, "clipHeight": 13, "rowPadding": 0, "padding": 6, "strokeColor": "#444", "fillColor": "#ffffff", "symbolOffset": 0}},
     "order": {"field": "n", "type": "quantitative"}
    }
   },
   {
    "data": {"name": "one"},
    "mark": {"type": "rule", "color": "#888888", "strokeWidth": 2.5},
    "encoding": {"x": {"datum": -2497}, "y": {"datum": -170}, "y2": {"datum": 1704}}
   },
   {
    "data": {"name": "one"},
    "mark": {"type": "rule", "color": "#555555", "strokeWidth": 1.5},
    "encoding": {"x": {"datum": -2497}, "x2": {"datum": 16421}, "y": {"datum": 1704}}
   },
   {
    "data": {"name": "one"},
    "mark": {"type": "text", "text": "B", "fontSize": 31, "color": "#000", "align": "center", "baseline": "alphabetic"},
    "encoding": {"x": {"datum": 15705}, "y": {"datum": 66}}
   }
  ]
 }
]
}
